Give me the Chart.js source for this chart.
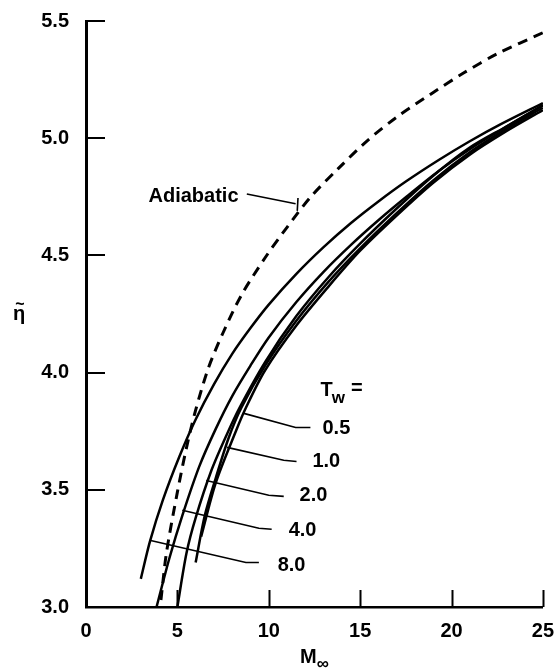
<!DOCTYPE html>
<html>
<head>
<meta charset="utf-8">
<script src="https://cdn.jsdelivr.net/npm/chart.js@4.4.0/dist/chart.umd.min.js"></script>
<style>
  html, body { margin: 0; padding: 0; background: #fff; }
  #wrap { width: 558px; height: 672px; }
</style>
</head>
<body>
<div id="wrap"><canvas id="c" width="558" height="672"></canvas></div>
<script>
// Axis tick values
const machTicks = [0, 5, 10, 15, 20, 25];
const etaTicks = [3.0, 3.5, 4.0, 4.5, 5.0, 5.5];

// Adiabatic wall (dashed)
const adiabaticM   = [4.1, 4.4, 5.0, 5.5, 6.0, 6.7, 7.5, 8.5, 9.8, 11.0, 12.3, 13.8, 15.4, 17.0, 18.9, 20.7, 22.5, 25.0];
const adiabaticEta = [3.03, 3.23, 3.49, 3.68, 3.84, 4.02, 4.17, 4.33, 4.49, 4.62, 4.75, 4.87, 4.99, 5.09, 5.19, 5.28, 5.36, 5.45];

// One curve per wall temperature ratio Tw
const tw8M   = [3.0, 3.5, 4.2, 5.1, 6.0, 7.0, 8.0, 9.0, 10.0, 11.5, 13.0, 14.5, 16.0, 17.5, 19.3, 21.0, 22.7, 25.0];
const tw8Eta = [3.12, 3.28, 3.455, 3.64, 3.80, 3.95, 4.08, 4.19, 4.29, 4.42, 4.535, 4.638, 4.73, 4.815, 4.907, 4.987, 5.06, 5.15];

const tw4M   = [3.86, 4.57, 5.27, 6.2, 7.1, 8.0, 9.0, 10.0, 11.5, 13.0, 14.5, 16.0, 17.5, 19.3, 21.0, 22.7, 25.0];
const tw4Eta = [3.00, 3.21, 3.39, 3.60, 3.76, 3.90, 4.03, 4.15, 4.30, 4.43, 4.545, 4.65, 4.748, 4.86, 4.953, 5.035, 5.14];

const tw2M   = [5.0, 5.5, 6.0, 6.85, 7.7, 8.4, 9.8, 11.5, 13.3, 15.0, 17.0, 19.0, 21.0, 23.0, 25.0];
const tw2Eta = [3.00, 3.23, 3.38, 3.58, 3.735, 3.85, 4.045, 4.24, 4.41, 4.55, 4.70, 4.84, 4.96, 5.05, 5.14];

const tw1M   = [6.0, 6.5, 7.1, 7.8, 8.5, 9.8, 11.5, 13.3, 15.0, 17.0, 19.0, 21.0, 23.0, 25.0];
const tw1Eta = [3.19, 3.39, 3.55, 3.72, 3.85, 4.03, 4.22, 4.39, 4.53, 4.68, 4.82, 4.94, 5.04, 5.13];

const tw05M   = [6.3, 7.1, 8.2, 8.75, 9.8, 11.5, 13.3, 15.0, 17.0, 19.0, 21.0, 23.0, 25.0];
const tw05Eta = [3.30, 3.53, 3.75, 3.85, 4.01, 4.20, 4.37, 4.52, 4.67, 4.81, 4.93, 5.03, 5.12];

const twLabels = ['0.5', '1.0', '2.0', '4.0', '8.0'];

function pairs(xs, ys) { return xs.map((x, i) => ({ x: x, y: ys[i] })); }

// Callout layout (in axis units)
const callouts = [
  { text: twLabels[0], path: [[8.64, 3.826], [11.47, 3.766], [12.28, 3.766]], at: [13.7, 3.76] },
  { text: twLabels[1], path: [[7.72, 3.681], [10.82, 3.626], [11.52, 3.621]], at: [13.15, 3.62] },
  { text: twLabels[2], path: [[6.58, 3.540], [10.00, 3.477], [10.82, 3.472]], at: [12.45, 3.477] },
  { text: twLabels[3], path: [[5.27, 3.413], [9.46, 3.336], [10.16, 3.332]], at: [11.85, 3.328] },
  { text: twLabels[4], path: [[3.48, 3.285], [8.75, 3.190], [9.46, 3.190]], at: [11.25, 3.179] }
];
const adiabaticCallout = { text: 'Adiabatic', path: [[8.8, 4.762], [11.47, 4.72]], hook: [[11.6, 4.745], [11.56, 4.69]], left: [3.42, 4.753] };
const twHeader = { left: [12.83, 3.902] };

const FONT = '"Liberation Sans", Arial, Helvetica, sans-serif';

const annotate = {
  id: 'annotate',
  afterDraw(chart) {
    const ctx = chart.ctx;
    const xs = chart.scales.x, ys = chart.scales.y;
    const X = v => xs.getPixelForValue(v);
    const Y = v => ys.getPixelForValue(v);
    const area = chart.chartArea;
    ctx.save();
    ctx.strokeStyle = '#000';
    ctx.fillStyle = '#000';

    // inward tick marks
    ctx.lineWidth = 2;
    ctx.beginPath();
    machTicks.slice(1).forEach(v => {
      const px = Math.round(X(v)) + 0.5;
      ctx.moveTo(px, area.bottom);
      ctx.lineTo(px, area.bottom - 17);
    });
    etaTicks.slice(1).forEach(v => {
      const py = Math.round(Y(v));
      ctx.moveTo(area.left, py);
      ctx.lineTo(area.left + 19, py);
    });
    ctx.stroke();

    // callout leaders
    ctx.lineWidth = 1.6;
    callouts.forEach(c => {
      ctx.beginPath();
      c.path.forEach((p, i) => {
        if (i === 0) ctx.moveTo(X(p[0]), Y(p[1]));
        else ctx.lineTo(X(p[0]), Y(p[1]));
      });
      ctx.stroke();
    });
    ctx.beginPath();
    adiabaticCallout.path.forEach((p, i) => {
      if (i === 0) ctx.moveTo(X(p[0]), Y(p[1]));
      else ctx.lineTo(X(p[0]), Y(p[1]));
    });
    ctx.moveTo(X(adiabaticCallout.hook[0][0]), Y(adiabaticCallout.hook[0][1]));
    ctx.lineTo(X(adiabaticCallout.hook[1][0]), Y(adiabaticCallout.hook[1][1]));
    ctx.stroke();

    // callout texts
    ctx.font = 'bold 20px ' + FONT;
    ctx.textAlign = 'center';
    ctx.textBaseline = 'middle';
    callouts.forEach(c => ctx.fillText(c.text, X(c.at[0]), Y(c.at[1])));
    ctx.textAlign = 'left';
    ctx.fillText(adiabaticCallout.text, X(adiabaticCallout.left[0]), Y(adiabaticCallout.left[1]));

    // "Tw =" header
    ctx.textBaseline = 'alphabetic';
    let hx = X(twHeader.left[0]);
    const hy = Y(twHeader.left[1]);
    ctx.font = 'bold 20px ' + FONT;
    ctx.fillText('T', hx, hy);
    hx += ctx.measureText('T').width - 1;
    ctx.font = 'bold 17px ' + FONT;
    ctx.fillText('w', hx, hy + 7);
    hx += ctx.measureText('w').width + 6;
    ctx.font = 'bold 20px ' + FONT;
    ctx.fillText('=', hx, hy - 2);

    // axis titles
    const cx = (area.left + area.right) / 2;
    ctx.font = 'bold 20px ' + FONT;
    const mw = ctx.measureText('M').width;
    ctx.fillText('M', cx - mw / 2 - 6, 663);
    ctx.font = 'bold 17px ' + FONT;
    ctx.fillText('\u221E', cx + mw / 2 - 6, 669);

    const ty = (area.top + area.bottom) / 2;
    ctx.textAlign = 'center';
    ctx.font = 'bold 20px ' + FONT;
    ctx.fillText('\u03B7', 19, ty + 6);
    ctx.font = 'bold 16px ' + FONT;
    ctx.fillText('~', 20, ty - 5);
    ctx.restore();
  }
};

const solid = (label, xs, ys, w) => ({
  label: label,
  data: pairs(xs, ys),
  borderColor: '#000',
  borderWidth: w,
  pointRadius: 0,
  fill: false,
  tension: 0.3
});

new Chart(document.getElementById('c'), {
  type: 'line',
  data: {
    datasets: [
      Object.assign(solid('Adiabatic', adiabaticM, adiabaticEta, 3), { borderDash: [10, 7] }),
      solid('Tw = 8.0', tw8M, tw8Eta, 2.5),
      solid('Tw = 4.0', tw4M, tw4Eta, 2.5),
      solid('Tw = 2.0', tw2M, tw2Eta, 2.5),
      solid('Tw = 1.0', tw1M, tw1Eta, 2.5),
      solid('Tw = 0.5', tw05M, tw05Eta, 2.5)
    ]
  },
  options: {
    responsive: false,
    devicePixelRatio: 1,
    animation: false,
    layout: { padding: { top: 17, right: 12, left: 0, bottom: 0 } },
    plugins: { legend: { display: false }, tooltip: { enabled: false } },
    scales: {
      x: {
        type: 'linear',
        min: machTicks[0],
        max: machTicks[machTicks.length - 1],
        afterBuildTicks: s => { s.ticks = machTicks.map(v => ({ value: v })); },
        ticks: { color: '#000', padding: 4, maxRotation: 0, font: { family: FONT, size: 20, weight: 'bold' } },
        grid: { display: false },
        border: { display: true, color: '#000', width: 2.5 },
        afterFit: s => { s.height = 65; }
      },
      y: {
        type: 'linear',
        min: etaTicks[0],
        max: etaTicks[etaTicks.length - 1],
        afterBuildTicks: s => { s.ticks = etaTicks.map(v => ({ value: v })); },
        ticks: { color: '#000', padding: 9, font: { family: FONT, size: 20, weight: 'bold' }, callback: v => Number(v).toFixed(1) },
        grid: { display: false },
        border: { display: true, color: '#000', width: 3 },
        afterFit: s => { s.width = 86; }
      }
    }
  },
  plugins: [annotate]
});
</script>
</body>
</html>
